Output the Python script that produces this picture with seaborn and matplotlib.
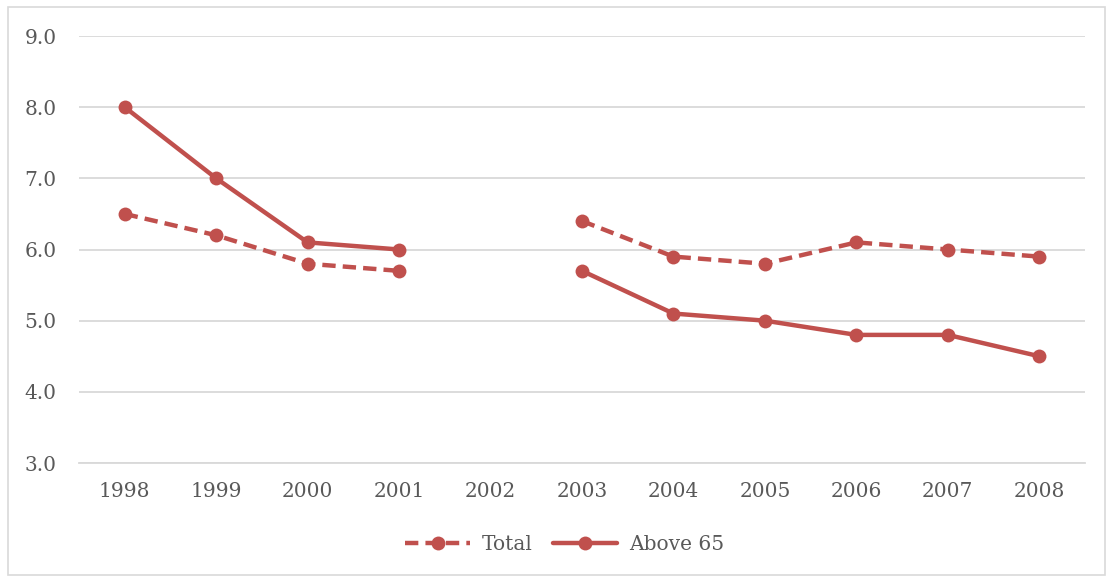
import numpy as np
import pandas as pd
import matplotlib
matplotlib.use("Agg")
import matplotlib.pyplot as plt
from matplotlib.lines import Line2D
from matplotlib.patches import Rectangle
import seaborn as sns

years = ["1998", "1999", "2000", "2001", "2002", "2003", "2004", "2005", "2006", "2007", "2008"]
total = [6.5, 6.2, 5.8, 5.7, np.nan, 6.4, 5.9, 5.8, 6.1, 6.0, 5.9]
above_65 = [8.0, 7.0, 6.1, 6.0, np.nan, 5.7, 5.1, 5.0, 4.8, 4.8, 4.5]
series_names = ["Total", "Above 65"]

sns.set_theme(style="white")
plt.rcParams["font.family"] = ["DejaVu Serif"]

red = "#C0504D"
grid_gray = "#D9D9D9"
text_gray = "#595959"

# Long-form table; a gap year splits each series into separate segments
rows = []
for name, vals in zip(series_names, [total, above_65]):
    seg = 0
    for i, v in enumerate(vals):
        if np.isnan(v):
            seg += 1
            continue
        rows.append({"pos": i, "value": v, "series": name, "segment": f"{name}-{seg}"})
df = pd.DataFrame(rows)

fig = plt.figure(figsize=(11.11, 5.79), dpi=100)
ax = fig.add_axes([79 / 1111, 1 - 463 / 579, (1085 - 79) / 1111, (463 - 36) / 579])

styles = {"Total": (0, (3, 1.6)), "Above 65": "-"}
for name in series_names:
    sub = df[df["series"] == name]
    sns.lineplot(data=sub, x="pos", y="value", units="segment", estimator=None,
                 color=red, linewidth=3.2, linestyle=styles[name],
                 marker="o", markersize=10, markeredgewidth=0,
                 ax=ax, legend=False)

ax.set_xlim(-0.5, len(years) - 0.5)
ax.set_ylim(3.0, 9.0)
ax.set_yticks(np.arange(3.0, 9.01, 1.0))
ax.set_yticklabels([f"{v:.1f}" for v in np.arange(3.0, 9.01, 1.0)])
ax.set_xticks(range(len(years)))
ax.set_xticklabels(years)
ax.set_xlabel("")
ax.set_ylabel("")
ax.yaxis.grid(True, color=grid_gray, linewidth=1.3)
ax.xaxis.grid(False)
for s in ["top", "right", "left"]:
    ax.spines[s].set_visible(False)
ax.spines["bottom"].set_color(grid_gray)
ax.spines["bottom"].set_linewidth(1.3)
ax.tick_params(axis="both", length=0, labelsize=14.5, labelcolor=text_gray)
ax.tick_params(axis="y", pad=16)
ax.tick_params(axis="x", pad=14)

handles = [
    Line2D([0], [0], color=red, linewidth=3.2, linestyle=(0, (3, 1.6)), marker="o", markersize=10, markeredgewidth=0),
    Line2D([0], [0], color=red, linewidth=3.2, linestyle="-", marker="o", markersize=10, markeredgewidth=0),
]
leg = fig.legend(handles, series_names, loc="center", bbox_to_anchor=(565 / 1111, 1 - 545 / 579),
                 ncol=2, frameon=False, fontsize=14.5, handlelength=3.2, columnspacing=1.0,
                 handletextpad=0.6)
for t in leg.get_texts():
    t.set_color(text_gray)

fig.patches.append(Rectangle((8 / 1111, 4 / 579), 1097 / 1111, 568 / 579, transform=fig.transFigure,
                             fill=False, edgecolor="#D9D9D9", linewidth=1.2))

fig.savefig("out.png", dpi=100)
